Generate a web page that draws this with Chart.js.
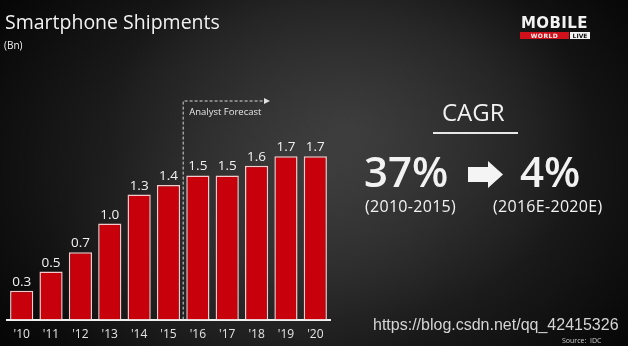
<!DOCTYPE html>
<html>
<head>
<meta charset="utf-8">
<script src="https://cdn.jsdelivr.net/npm/chart.js@4/dist/chart.umd.min.js"></script>
<style>
  html, body { margin: 0; padding: 0; background: #000; }
  #stage {
    position: relative; width: 628px; height: 346px; overflow: hidden;
    font-family: "Open Sans", sans-serif; color: #f2f2f2;
    background:
      radial-gradient(ellipse 240px 190px at 350px 130px, rgba(80,80,80,0.5), rgba(40,40,40,0) 100%),
      radial-gradient(ellipse 200px 150px at 250px 260px, rgba(60,60,60,0.35), rgba(40,40,40,0) 100%),
      radial-gradient(ellipse 390px 290px at 320px 170px, #303030 0%, #1d1d1d 55%, #060606 100%);
  }
  #chart { position: absolute; left: 0; top: 8px; }
  .txt { position: absolute; white-space: nowrap; line-height: 1; }
</style>
</head>
<body>
<div id="stage">
  <canvas id="chart" width="628" height="346"></canvas>

  <div class="txt" style="left:5px; top:12px; font-size:19.5px;">Smartphone Shipments</div>
  <div class="txt" style="left:4px; top:40px; font-size:10px;">(Bn)</div>

  <div class="txt" style="left:521px; top:16px; font-family:'DejaVu Sans'; font-weight:bold; font-size:15px; letter-spacing:0.4px;">MOBILE</div>
  <div class="txt" style="left:520px; top:32px; width:49px; height:7px; background:#d0101a; font-family:'DejaVu Sans'; font-weight:bold; font-size:6px; line-height:7px; text-align:center; letter-spacing:0.5px;">WORLD</div>
  <div class="txt" style="left:570px; top:32px; width:20px; height:7px; background:#f2f2f2; color:#111; font-family:'DejaVu Sans'; font-weight:bold; font-size:6px; line-height:7px; text-align:center;">LIVE</div>

  <div class="txt" style="left:442px; top:100px; font-size:24px;">CAGR</div>
  <div style="position:absolute; left:433px; top:132px; width:85px; height:2px; background:#e8e8e8;"></div>

  <div class="txt" style="left:364px; top:150px; font-size:42px; font-weight:600;">37%</div>
  <svg style="position:absolute; left:468px; top:161px;" width="36" height="27">
    <polygon points="0,6 20,6 20,0 35,13.5 20,27 20,21 0,21" fill="#f4f4f4"/>
  </svg>
  <div class="txt" style="left:520px; top:150px; font-size:42px; font-weight:600;">4%</div>

  <div class="txt" style="left:365px; top:198px; font-size:16px; letter-spacing:0.3px;">(2010-2015)</div>
  <div class="txt" style="left:493px; top:198px; font-size:16px; letter-spacing:0.3px;">(2016E-2020E)</div>

  <div class="txt" style="left:373px; top:317px; font-family:'Liberation Sans'; font-size:16px; color:#d4d4d4;">https://blog.csdn.net/qq_42415326</div>
  <div class="txt" style="left:562px; top:337px; font-size:7px; color:#cfcfcf;">Source:&nbsp; IDC</div>
</div>

<script>
// shipments in billions, '16 onwards are analyst forecasts
const years = ["'10", "'11", "'12", "'13", "'14", "'15", "'16", "'17", "'18", "'19", "'20"];
const shipments = [0.3, 0.5, 0.7, 1.0, 1.3, 1.4, 1.5, 1.5, 1.6, 1.7, 1.7];
const firstForecast = 6;

// value labels over each bar
const barLabels = {
  id: 'barLabels',
  afterDatasetsDraw(chart) {
    const ctx = chart.ctx;
    const meta = chart.getDatasetMeta(0);
    ctx.save();
    ctx.font = '13.5px "Open Sans"';
    ctx.fillStyle = '#f2f2f2';
    ctx.textAlign = 'center';
    ctx.textBaseline = 'bottom';
    meta.data.forEach((bar, i) => {
      ctx.fillText(shipments[i].toFixed(1), bar.x, bar.y - 2);
    });
    ctx.restore();
  }
};

// dashed divider + "Analyst Forecast" arrow
const forecastMarker = {
  id: 'forecastMarker',
  afterDatasetsDraw(chart) {
    const ctx = chart.ctx;
    const x = chart.scales.x;
    const xs = (x.getPixelForValue(firstForecast - 1) + x.getPixelForValue(firstForecast)) / 2;
    const top = 93;
    const bottom = chart.chartArea.bottom;
    const end = 270;
    ctx.save();
    ctx.strokeStyle = '#d8d8d8';
    ctx.lineWidth = 1;
    ctx.setLineDash([3, 2]);
    ctx.beginPath();
    ctx.moveTo(xs, bottom);
    ctx.lineTo(xs, top);
    ctx.lineTo(end - 5, top);
    ctx.stroke();
    ctx.setLineDash([]);
    ctx.fillStyle = '#e0e0e0';
    ctx.beginPath();
    ctx.moveTo(end, top);
    ctx.lineTo(end - 6, top - 3);
    ctx.lineTo(end - 6, top + 3);
    ctx.closePath();
    ctx.fill();
    ctx.font = '9.5px "Open Sans"';
    ctx.fillStyle = '#e6e6e6';
    ctx.textBaseline = 'middle';
    ctx.fillText('Analyst Forecast', xs + 6, top + 11);
    ctx.restore();
  }
};

new Chart(document.getElementById('chart'), {
  type: 'bar',
  data: {
    labels: years,
    datasets: [{
      data: shipments,
      backgroundColor: '#c8000c',
      borderColor: '#f3c9c9',
      borderWidth: 1.5,
      barPercentage: 0.79,
      categoryPercentage: 1.0
    }]
  },
  options: {
    responsive: false,
    devicePixelRatio: 1,
    animation: false,
    layout: { padding: { left: 7, right: 298, top: 2, bottom: 4 } },
    plugins: { legend: { display: false }, tooltip: { enabled: false } },
    scales: {
      x: {
        grid: { display: false, drawTicks: false },
        border: { display: true, color: '#f0f0f0', width: 2 },
        ticks: { color: '#e4e4e4', font: { family: 'Open Sans', size: 12 }, padding: 8 }
      },
      y: { display: false, min: 0, max: 3.22 }
    }
  },
  plugins: [barLabels, forecastMarker]
});
</script>
</body>
</html>
